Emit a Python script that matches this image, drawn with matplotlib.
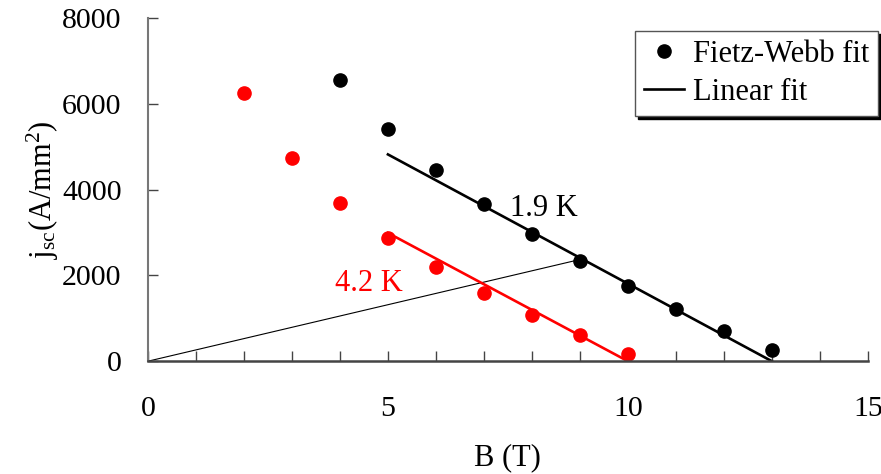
import numpy as np
import matplotlib
matplotlib.use('Agg')
import matplotlib.pyplot as plt
from matplotlib.lines import Line2D
from matplotlib.ticker import MultipleLocator

# measured critical current density vs field
b_19 = [4, 5, 6, 7, 8, 9, 10, 11, 12, 13]
j_19 = [6560, 5420, 4460, 3670, 2960, 2340, 1760, 1210, 700, 260]
b_42 = [2, 3, 4, 5, 6, 7, 8, 9, 10]
j_42 = [6250, 4730, 3690, 2870, 2190, 1590, 1070, 610, 160]

# linear fits (end points)
fit_19_b = [5, 13]
fit_19_j = [4820, 0]
fit_42_b = [5, 10]
fit_42_j = [2990, 0]

# load line from origin
load_b = [0, 9]
load_j = [0, 2370]

plt.rcParams['font.family'] = ['Liberation Serif', 'DejaVu Serif']
plt.rcParams['mathtext.fontset'] = 'custom'
plt.rcParams['mathtext.rm'] = 'Liberation Serif'
plt.rcParams['mathtext.it'] = 'Liberation Serif:italic'

fig = plt.figure(figsize=(8.81, 4.74), dpi=100)
ax = fig.add_axes([0.168, 0.238, 0.817, 0.724])

ax.plot(load_b, load_j, '-', color='black', linewidth=0.8)
ax.plot(fit_19_b, fit_19_j, '-', color='black', linewidth=1.9)
ax.plot(fit_42_b, fit_42_j, '-', color='#ff0000', linewidth=1.9)
ax.plot(b_19, j_19, 'o', color='black', markersize=9.5, linestyle='none')
ax.plot(b_42, j_42, 'o', color='#ff0000', markersize=9.5, linestyle='none')

ax.text(8.25, 3570, '1.9 K', fontsize=22, color='black', ha='center', va='center')
ax.text(4.6, 1820, '4.2 K', fontsize=22, color='#ff0000', ha='center', va='center')

ax.set_xlim(0, 15)
ax.set_ylim(0, 8000)
ax.xaxis.set_major_locator(MultipleLocator(5))
ax.xaxis.set_minor_locator(MultipleLocator(1))
ax.yaxis.set_major_locator(MultipleLocator(2000))

for s in ['top', 'right']:
    ax.spines[s].set_visible(False)
ax.spines['left'].set_color('#777777')
ax.spines['left'].set_linewidth(1.5)
ax.spines['bottom'].set_color('#444444')
ax.spines['bottom'].set_linewidth(1.8)

ax.tick_params(axis='x', which='both', direction='in', length=7, width=1.0,
               color='#444444', labelsize=21.5, pad=25)
ax.tick_params(axis='y', which='major', direction='in', length=7, width=1.0,
               color='#444444', labelsize=21.5, pad=19)

ax.set_xlabel('B (T)', fontsize=22, labelpad=15)
ax.set_ylabel(r'j$_{\mathrm{sc}}$(A/mm$^{2}$)', fontsize=22, labelpad=1)

handles = [
    Line2D([], [], marker='o', color='black', linestyle='none', markersize=9.5),
    Line2D([], [], color='black', linewidth=1.9),
]
leg = fig.legend(handles, ['Fietz-Webb fit', 'Linear fit'],
                 loc='upper right', bbox_to_anchor=(0.997, 0.935),
                 fontsize=22, frameon=True, fancybox=False,
                 shadow={'color': 'black', 'alpha': 1.0},
                 edgecolor='#555555', handlelength=1.3, handletextpad=0.3,
                 borderpad=0.3, labelspacing=0.3, borderaxespad=0.0)
leg.get_frame().set_linewidth(1.0)

fig.savefig('out.png', dpi=100)
